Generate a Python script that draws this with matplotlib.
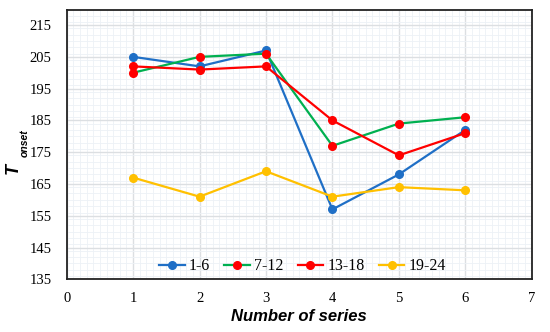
import matplotlib
matplotlib.use("Agg")
import matplotlib.pyplot as plt
from matplotlib.ticker import MultipleLocator

x = [1, 2, 3, 4, 5, 6]
s_1_6 = [205, 202, 207, 157, 168, 182]
s_7_12 = [200, 205, 206, 177, 184, 186]
s_13_18 = [202, 201, 202, 185, 174, 181]
s_19_24 = [167, 161, 169, 161, 164, 163]
labels = ["1-6", "7-12", "13-18", "19-24"]

fig = plt.figure(figsize=(5.5, 3.32), dpi=100)
ax = fig.add_axes([66.7/550, 1-279.3/332, (531.7-66.7)/550, (279.3-9.5)/332])

blue = "#1f6fc6"
green = "#00b050"
red = "#ff0000"
yellow = "#ffc000"

ax.plot(x, s_1_6, color=blue, marker="o", ms=5.5, lw=1.6, label=labels[0])
ax.plot(x, s_7_12, color=green, marker="o", ms=5.5, mfc=red, mec=red, lw=1.6, label=labels[1])
ax.plot(x, s_13_18, color=red, marker="o", ms=5.5, lw=1.6, label=labels[2])
ax.plot(x, s_19_24, color=yellow, marker="o", ms=5.5, lw=1.6, label=labels[3])

ax.set_xlim(0, 7)
ax.set_ylim(135, 219.9)
ax.xaxis.set_major_locator(MultipleLocator(1))
ax.xaxis.set_minor_locator(MultipleLocator(0.1))
ax.set_yticks(range(135, 216, 10))
ax.yaxis.set_minor_locator(MultipleLocator(2))
ax.grid(which="major", color="#dcdfe2", lw=1.0)
ax.grid(which="minor", color="#edf1f6", lw=0.6)
ax.set_axisbelow(True)
ax.tick_params(which="both", length=0)
ax.tick_params(axis="x", pad=9)
ax.tick_params(axis="y", pad=11)
for lab in ax.get_xticklabels() + ax.get_yticklabels():
    lab.set_fontfamily("Liberation Serif")
    lab.set_fontsize(10.5)
for sp in ax.spines.values():
    sp.set_linewidth(1.3)
    sp.set_color("#222222")

ax.set_xlabel("Number of series", fontfamily="Liberation Sans", fontweight="bold",
              fontstyle="italic", fontsize=12, labelpad=3)
fig.text(13/550, 1-168/332, "T", fontfamily="Liberation Sans", fontweight="bold", fontstyle="italic",
         fontsize=13, rotation=90, va="center", ha="center")
fig.text(25/550, 1-157/332, "onset", fontfamily="Liberation Sans", fontweight="bold", fontstyle="italic",
         fontsize=7.5, rotation=90, va="bottom", ha="center")

leg = ax.legend(loc="lower center", ncol=4, frameon=False, bbox_to_anchor=(0.507, -0.035),
                prop={"family": "Liberation Serif", "size": 11.5}, handlelength=1.6,
                handletextpad=0.25, columnspacing=0.9)

fig.savefig("out.png", dpi=100)
